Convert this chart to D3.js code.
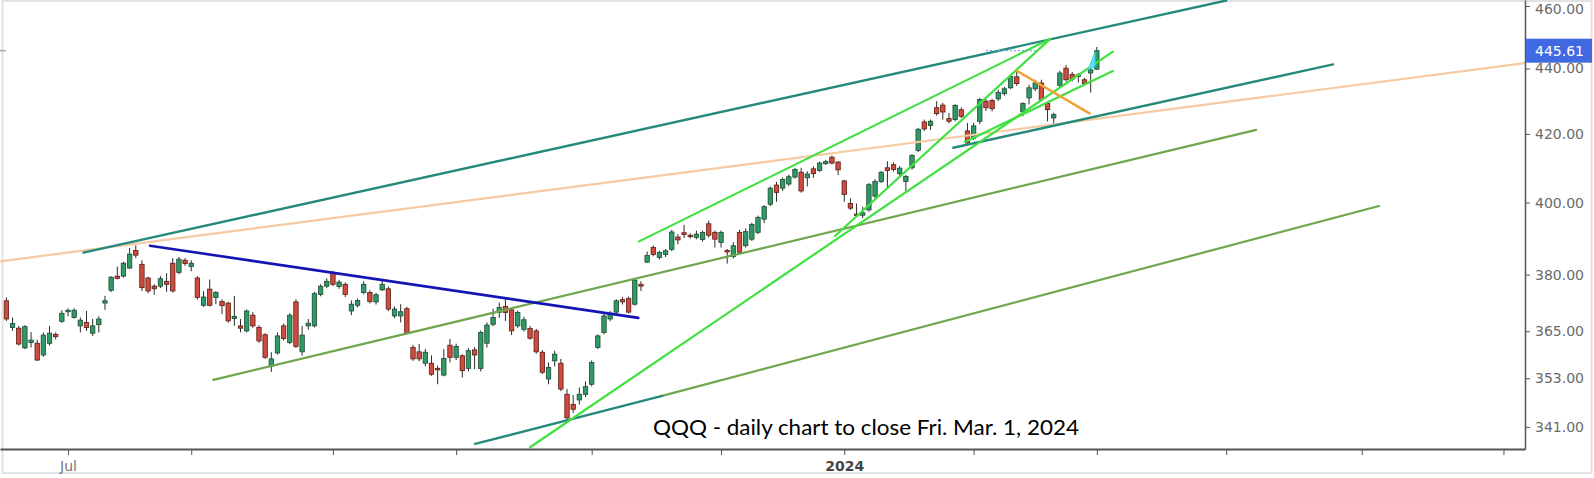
<!DOCTYPE html>
<html><head><meta charset="utf-8">
<script src="https://cdn.jsdelivr.net/npm/d3@7"></script>
<style>html,body{margin:0;padding:0;background:#fff;} svg{display:block;}</style>
</head><body>
<svg id="chart" width="1594" height="478"></svg>
<script>
// ---- categories: trading sessions (Jun 16 2023 .. Mar 1 2024)
const sessions = [
  ["2023-06", [16,20,21,22,23,26,27,28,29,30]],
  ["2023-07", [3,5,6,7,10,11,12,13,14,17,18,19,20,21,24,25,26,27,28,31]],
  ["2023-08", [1,2,3,4,7,8,9,10,11,14,15,16,17,18,21,22,23,24,25,28,29,30,31]],
  ["2023-09", [1,5,6,7,8,11,12,13,14,15,18,19,20,21,22,25,26,27,28,29]],
  ["2023-10", [2,3,4,5,6,9,10,11,12,13,16,17,18,19,20,23,24,25,26,27,30,31]],
  ["2023-11", [1,2,3,6,7,8,9,10,13,14,15,16,17,20,21,22,24,27,28,29,30]],
  ["2023-12", [1,4,5,6,7,8,11,12,13,14,15,18,19,20,21,22,26,27,28,29]],
  ["2024-01", [2,3,4,5,8,9,10,11,12,16,17,18,19,22,23,24,25,26,29,30,31]],
  ["2024-02", [1,2,5,6,7,8,9,12,13,14,15,16,20,21,22,23,26,27,28,29]],
  ["2024-03", [1]]
];

// ---- series values (QQQ daily OHLC)
const open = [373.0,366.0,365.8,360.7,362.1,361.9,358.9,361.9,364.2,367.6,
370.1,368.6,366.4,367.3,364.5,366.7,372.4,375.8,379.6,379.6,381.8,386.6,382.8,379.1,376.9,376.9,378.2,383.1,380.6,383.9,
382.2,379.1,371.8,376.1,373.9,372.8,372.4,368.3,366.4,365.1,369.2,366.0,364.1,356.1,359.4,366.4,362.1,372.7,359.7,366.4,366.4,374.7,376.9,
380.4,376.8,377.4,370.3,371.8,375.2,375.2,372.7,375.9,376.2,369.0,369.0,370.9,360.8,359.7,356.8,356.8,355.5,353.8,361.4,
358.3,358.7,355.5,360.2,355.5,361.9,366.8,369.9,371.5,370.6,366.4,365.5,365.7,365.1,359.6,352.8,357.4,356.8,349.0,346.5,347.6,349.0,
351.5,360.8,364.7,368.2,370.0,373.3,373.6,372.1,377.4,383.4,387.4,384.7,385.5,386.9,390.3,391.5,390.8,390.2,389.6,394.0,391.6,
388.8,386.6,384.9,391.6,387.9,389.7,391.6,395.3,399.5,405.0,404.1,405.3,407.3,408.7,407.1,409.7,409.2,411.2,413.1,411.7,
406.2,399.7,396.7,396.4,397.9,401.8,406.0,410.0,410.9,408.3,406.0,410.0,415.1,423.6,422.5,427.9,428.7,424.6,424.3,427.3,420.9,
418.7,423.8,429.9,430.1,430.6,432.2,434.0,437.4,426.7,430.9,433.7,435.5,429.2,424.8,434.7,440.1,438.1,437.5,436.5,438.6,
439.8];
const high = [373.9,368.6,366.4,366.6,364.8,362.8,364.7,366.4,364.7,370.5,
371.0,371.0,368.6,370.3,368.2,368.9,374.3,379.6,382.2,383.5,387.3,388.0,383.9,379.4,377.4,379.6,380.4,384.5,384.8,384.5,
383.9,379.6,375.6,378.7,375.6,373.4,372.7,374.3,368.2,370.7,370.0,366.6,364.5,359.6,364.7,367.0,369.7,373.4,366.4,368.2,375.4,377.4,379.0,
381.0,378.6,377.9,373.1,373.6,378.2,375.8,375.1,378.7,376.8,371.5,372.1,371.4,361.5,361.7,360.4,358.8,356.2,360.4,363.0,
361.8,359.1,360.7,360.9,365.2,367.3,370.9,372.5,373.4,370.9,370.4,368.8,366.4,365.6,360.1,357.0,360.0,357.9,350.3,348.8,350.7,352.2,
357.5,364.2,369.6,370.3,373.4,374.0,374.1,378.8,378.2,386.3,388.0,386.5,387.0,392.3,391.1,393.7,391.3,392.1,392.1,394.9,392.1,
392.1,387.0,388.9,392.3,392.7,394.3,396.3,399.3,404.6,405.9,407.2,408.0,410.0,410.0,409.0,410.4,411.8,412.3,413.6,411.9,
406.5,401.2,399.7,398.8,405.6,406.7,409.1,411.9,411.6,410.5,407.9,414.0,421.8,424.3,424.3,429.9,429.4,426.3,429.0,428.0,423.3,
423.3,430.9,430.6,430.6,433.4,434.3,438.0,439.6,429.6,435.0,436.5,436.5,429.8,426.4,439.3,441.1,438.9,438.6,437.1,440.6,
446.8];
const low = [367.7,365.1,361.3,360.4,360.8,357.4,358.4,361.3,362.9,367.2,
368.9,368.3,364.7,365.1,363.8,364.7,370.6,375.3,378.7,379.2,381.5,384.5,375.6,375.0,374.6,376.4,375.4,375.2,380.1,382.4,
380.9,373.3,371.4,371.5,372.1,369.5,367.2,366.4,364.7,364.7,365.9,362.0,357.9,354.6,359.0,362.6,361.7,360.7,358.7,365.4,366.0,374.2,376.4,
376.9,376.2,374.0,369.2,371.2,374.7,372.3,372.0,375.6,370.3,368.4,367.3,364.2,357.4,357.3,356.0,353.6,351.5,353.5,357.0,
357.6,353.2,354.8,355.3,354.7,360.8,366.3,368.5,367.7,364.0,365.9,364.9,362.8,359.2,354.1,351.5,356.0,349.8,342.8,344.4,346.5,348.3,
351.0,360.4,364.2,367.6,369.5,372.0,369.6,371.7,375.6,383.2,385.0,384.1,384.8,386.4,388.3,390.0,389.9,389.7,389.0,390.2,387.4,
387.4,383.0,384.4,385.6,387.4,389.2,391.1,394.2,399.0,400.2,403.3,404.7,406.9,402.8,404.6,407.1,408.8,410.8,411.0,407.9,
400.2,397.9,396.1,395.6,397.4,400.9,405.6,404.1,408.9,407.6,403.1,409.5,414.6,420.9,421.2,425.5,424.3,423.2,423.8,424.8,416.8,
418.2,422.9,426.9,426.8,430.0,431.6,433.6,434.6,425.3,428.9,433.0,429.9,423.8,422.1,434.0,435.9,436.0,435.7,434.8,432.5,
439.5];
const close = [368.2,367.0,361.7,366.2,362.7,357.6,364.0,364.5,363.6,369.7,
370.5,370.5,367.9,366.0,366.4,368.2,373.0,379.3,379.0,383.1,385.6,385.3,376.5,375.6,376.2,378.9,377.4,375.6,384.2,383.0,
383.1,373.9,374.0,371.8,375.2,371.7,367.7,368.9,365.8,370.3,366.4,362.5,358.3,357.9,363.8,363.1,369.2,361.1,364.0,367.1,374.9,376.9,378.2,
377.4,378.0,374.7,372.1,373.1,377.4,372.8,374.6,377.4,370.8,370.8,370.1,364.5,357.9,357.9,359.6,354.0,355.1,358.0,358.3,
361.1,354.9,360.0,358.9,364.7,366.6,368.6,371.2,369.9,365.1,369.9,368.0,363.2,359.7,354.5,355.7,359.1,350.3,343.2,345.3,349.0,350.9,
357.0,363.8,369.0,369.7,373.0,372.7,370.0,378.5,376.9,385.2,385.5,386.1,386.5,391.7,389.5,391.0,390.4,391.1,391.6,390.8,389.7,
391.6,386.2,387.9,386.1,391.8,393.8,395.8,398.8,404.1,402.9,406.6,407.4,409.5,403.3,408.2,408.3,411.4,411.8,411.4,409.4,
402.3,398.4,396.4,397.1,405.1,406.0,408.7,409.2,409.5,409.9,407.5,413.6,421.4,421.5,423.8,426.1,426.6,423.8,428.6,425.3,417.3,
422.4,430.4,427.9,427.6,432.6,433.7,437.5,435.3,429.2,434.0,435.5,430.4,427.3,425.8,438.6,436.5,436.7,438.0,435.3,439.6,
445.61];

// ---- tick labels
const yTickValues = [341, 353, 365, 380, 400, 420, 440, 460];
const tickMonths = ["2023-07","2023-08","2023-09","2023-10","2023-11","2023-12","2024-01","2024-02","2024-03","2024-04","2024-05","2024-06"];
const tickLabels = ["Jul","","","","","","2024","","","","",""];
const lastPrice = 445.61;
const caption = "QQQ - daily chart to close Fri. Mar. 1, 2024";

// ---- drawn trend lines: [session index, price] endpoints
const tealLines = [
  [[2.5, 386.0], [188, 461.8]],
  [[143.7, 415.9], [205.35, 441.3]],
  [[66.07, 336.9], [96.43, 348.6]]
];
const peachLines = [[[-11.04, 383.6], [236.5, 441.7]]];
const blueLines = [[[13.31, 387.9], [92.58, 368.5]]];
const oliveLines = [
  [[23.59, 352.6], [192.86, 421.2]],
  [[96.43, 348.6], [212.8, 399.0]]
];
const limeLines = [
  [[92.7, 389.1], [159.4, 449.3]],
  [[75.0, 336.1], [169.6, 445.3]],
  [[124.5, 390.6], [159.4, 449.3]],
  [[145.6, 417.6], [169.6, 439.2]]
];
const orangeLines = [[[154.0, 439.3], [165.8, 426.2]]];
const dottedLevel = [[149, 445.61], [157.5, 445.61]];
const cyanWedge = [[165.6, 439.6], [166.7, 445.2], [166.7, 440.6]];

// ---- build
const parse = d3.timeParse("%Y-%m-%d");
const dates = [];
sessions.forEach(([m, days]) => days.forEach(d => dates.push(parse(m + "-" + String(d).padStart(2, "0")))));
const firstIdx = dates.findIndex(d => d.getMonth() === 6 && d.getFullYear() === 2023);
const data = dates.map((d, k) => ({date: d, i: k - firstIdx, o: open[k], h: high[k], l: low[k], c: close[k]}));
const lastI = data[data.length - 1].i;
const lastDate = dates[dates.length - 1];
const isWeekday = d => d.getDay() > 0 && d.getDay() < 6;

function monthIndex(m) {
  const start = parse(m + "-01");
  const k = dates.findIndex(d => d >= start);
  if (k >= 0) return k - firstIdx;
  let s = start; while (!isWeekday(s)) s = d3.timeDay.offset(s, 1);
  const wd = d3.timeDay.range(d3.timeDay.offset(lastDate, 1), s).filter(isWeekday).length;
  return lastI + wd + 1;
}
const tickIdx = tickMonths.map(monthIndex);

const W = 1594, H = 478, plotR = 1525, plotB = 449;
const svg = d3.select("#chart");
const x = d3.scaleLinear().domain([-11.04, 236.5]).range([0, plotR]);
const y = d3.scaleLog().domain([335.68, 461.97]).range([plotB, 0]);

svg.append("rect").attr("x", 0).attr("y", 0).attr("width", W).attr("height", H).attr("fill", "#fff");
svg.append("rect").attr("x", 2.5).attr("y", 1).attr("width", 1589).attr("height", 472)
  .attr("fill", "none").attr("stroke", "#e2e2e2").attr("stroke-width", 2);

svg.append("clipPath").attr("id", "plotclip").append("rect")
  .attr("x", 0).attr("y", 0).attr("width", plotR).attr("height", plotB);
const plot = svg.append("g").attr("clip-path", "url(#plotclip)");

// candles
const bw = 4.4;
const cg = plot.append("g");
const candle = cg.selectAll("g.c").data(data).join("g").attr("class", "c");
candle.append("line")
  .attr("x1", d => x(d.i)).attr("x2", d => x(d.i))
  .attr("y1", d => y(d.h)).attr("y2", d => y(d.l))
  .attr("stroke", "#2b2b2b").attr("stroke-width", 1);
candle.append("rect")
  .attr("x", d => x(d.i) - bw / 2)
  .attr("y", d => y(Math.max(d.o, d.c)))
  .attr("width", bw)
  .attr("height", d => Math.max(1.2, Math.abs(y(d.o) - y(d.c))))
  .attr("fill", d => d.c >= d.o ? "#2f9a66" : "#cf4b3d")
  .attr("stroke", d => d.c >= d.o ? "#1d4a33" : "#5a1d14")
  .attr("stroke-width", 0.8);

// lines
function drawLines(set, color, width) {
  plot.append("g").selectAll("line").data(set).join("line")
    .attr("x1", d => x(d[0][0])).attr("y1", d => y(d[0][1]))
    .attr("x2", d => x(d[1][0])).attr("y2", d => y(d[1][1]))
    .attr("stroke", color).attr("stroke-width", width).attr("stroke-linecap", "round");
}
drawLines(peachLines, "#f6caa2", 2.2);
drawLines(oliveLines, "#6fa64e", 2.2);
drawLines(tealLines, "#25897c", 2.4);
drawLines(blueLines, "#1414b4", 2.6);
drawLines(limeLines, "#3fe03f", 2.2);
drawLines(orangeLines, "#eea235", 2.6);

plot.append("line")
  .attr("x1", x(dottedLevel[0][0])).attr("x2", x(dottedLevel[1][0]))
  .attr("y1", y(dottedLevel[0][1])).attr("y2", y(dottedLevel[1][1]))
  .attr("stroke", "#7fa6e6").attr("stroke-width", 1.2).attr("stroke-dasharray", "2,2");
plot.append("polygon")
  .attr("points", cyanWedge.map(p => x(p[0]) + "," + y(p[1])).join(" "))
  .attr("fill", "#58e2ee").attr("stroke", "#3fd4e6").attr("stroke-width", 1);
plot.append("line").attr("x1", 0).attr("x2", 6).attr("y1", y(lastPrice)).attr("y2", y(lastPrice))
  .attr("stroke", "#aaa").attr("stroke-width", 1.5);

// caption
svg.append("text").attr("x", 866).attr("y", 435)
  .attr("text-anchor", "middle")
  .attr("font-family", "Lato, 'Open Sans', sans-serif").attr("font-size", 22)
  .attr("fill", "#000")
  .attr("textLength", 426).attr("lengthAdjust", "spacingAndGlyphs")
  .text(caption);

// axes
const yAxis = svg.append("g").attr("transform", `translate(${plotR},0)`)
  .call(d3.axisRight(y).tickValues(yTickValues).tickFormat(d3.format(".2f")).tickSize(5).tickSizeOuter(0).tickPadding(5));
yAxis.select(".domain").attr("stroke", "#555").attr("stroke-width", 1.5);
yAxis.selectAll(".tick line").attr("stroke", "#555");
yAxis.selectAll(".tick text").attr("font-family", "'DejaVu Sans', sans-serif").attr("font-size", 14).attr("fill", "#6a6a6a")
  .attr("dy", d => d === 460 ? "0.5em" : "0.32em");

const xAxis = svg.append("g").attr("transform", `translate(0,${plotB})`)
  .call(d3.axisBottom(x).tickValues(tickIdx).tickFormat((d, k) => tickLabels[k]).tickSize(6).tickSizeOuter(0).tickPadding(6));
xAxis.select(".domain").attr("stroke", "#555").attr("stroke-width", 2);
xAxis.selectAll(".tick line").attr("stroke", "#555");
xAxis.selectAll(".tick text").attr("font-family", "'DejaVu Sans', sans-serif").attr("font-size", 14)
  .attr("fill", (d, k) => k === 6 ? "#444" : "#777")
  .attr("font-weight", (d, k) => k === 6 ? "bold" : "normal");

// last price tag
const ly = y(lastPrice);
svg.append("line").attr("x1", plotR).attr("x2", plotR + 5).attr("y1", ly).attr("y2", ly).attr("stroke", "#555");
svg.append("rect").attr("x", plotR + 1).attr("y", ly - 12).attr("width", 66).attr("height", 24).attr("fill", "#4169e1");
svg.append("text").attr("x", plotR + 10).attr("y", ly).attr("dy", "0.35em")
  .attr("font-family", "'DejaVu Sans', sans-serif").attr("font-size", 14).attr("fill", "#fff")
  .text(d3.format(".2f")(lastPrice));
</script>
</body></html>
